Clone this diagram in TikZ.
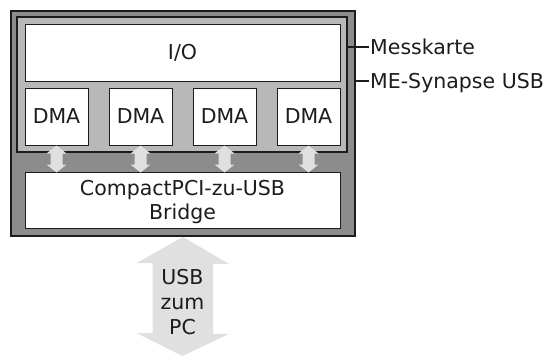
\documentclass[tikz,border=0pt]{standalone}
\usepackage{fontspec}
\setmainfont{DejaVu Sans}
\usepackage{tikz}
\definecolor{cardgray}{gray}{0.55}
\definecolor{boardgray}{gray}{0.72}
\definecolor{flowgray}{gray}{0.88}
\definecolor{linegray}{gray}{0.11}
\tikzset{basic/.style={draw=linegray,text=linegray,
                       text badly centered,inner sep=0pt}}
\tikzset{unit/.style={basic,rectangle,fill=white,line width=1pt}}
\tikzset{frame/.style={basic,rectangle,line width=1.8pt}}
\tikzset{tag/.style={anchor=west,inner sep=1pt,text=linegray,
                     text height=14pt,text depth=0pt}}
\tikzset{flow/.style={fill=flowgray}}
\newcommand{\smallflow}[1]{\fill[flow] (#1) -- ++(10,8) -- ++(-4,0)
                            -- ++(0,11) -- ++(4,0) -- ++(-10,8) -- ++(-10,-8)
                            -- ++(4,0) -- ++(0,-11) -- ++(-4,0) -- cycle;}

\begin{document}
\begin{tikzpicture}[x=1pt,y=-1pt,font=\fontsize{20.5}{24}\selectfont]
    \useasboundingbox (0,0) rectangle (550,356);
    % Draw the two frames
    \node[frame,fill=cardgray,minimum width=344pt,minimum height=225pt] (synapse) at (183,123.5) {};
    \node[frame,fill=boardgray,minimum width=330pt,minimum height=135pt] (messkarte) at (182,84.5) {};
    % Draw I/O and DMA blocks
    \node[unit,minimum width=315pt,minimum height=57pt] (io) at (182.5,52.5) {I/O};
    \foreach \i in {1,...,4}{%
          \node[unit,minimum width=63pt,minimum height=57pt] (dma\i) at (-27.5+84*\i,116.5) {DMA};
        }
    % Draw bridge
    \node[unit,minimum width=315pt,minimum height=56pt] (bridge) at (182.5,200) {};
    \node[align=center,text=linegray] (bridgetext) at (182.5,202) {CompactPCI-zu-USB\\Bridge};
    % Arrows from DMA blocks to bridge
    \foreach \i in {1,...,4}{%
          \smallflow{dma\i.south}
        }
    % Big arrow to the PC
    \coordinate (pc) at (182.5,356);
    \fill[flow] (synapse.south) -- ++(46,27) -- ++(-16,0) -- ++(0,70) -- ++(16,0)
                -- (pc) -- ++(-46,-23) -- ++(16,0) -- ++(0,-70) -- ++(-16,0) -- cycle;
    \node[align=center,text=linegray,font=\fontsize{20.5}{25}\selectfont] (usb) at (182.5,302) {USB\\zum\\PC};
    % Labels
    \node[tag] (lmess) at (369,47) {Messkarte};
    \node[tag] (lsyn) at (369,81) {ME-Synapse USB};
    \draw[linegray,line width=1.2pt] (lmess.west) -- (lmess.west -| messkarte.east);
    \draw[linegray,line width=1.2pt] (lsyn.west) -- (lsyn.west -| synapse.east);
\end{tikzpicture}
\end{document}
